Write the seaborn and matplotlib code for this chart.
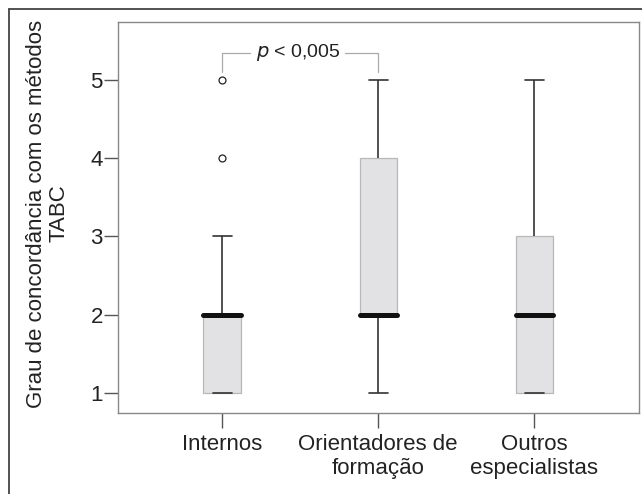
import numpy as np
import pandas as pd
import seaborn as sns
import matplotlib.pyplot as plt
from matplotlib.lines import Line2D

# Agreement scores (1-5) and number of respondents giving each score
scores = [1, 2, 3, 4, 5]
internos_counts = [10, 15, 3, 1, 1]
orientadores_counts = [3, 11, 3, 6, 3]
outros_counts = [7, 7, 5, 2, 2]

groups = ["Internos", "Orientadores de\nformação", "Outros\nespecialistas"]
y_ticks = [1, 2, 3, 4, 5]
p_label = r"$\it{p}$ < 0,005"

rows = []
for grp, counts in zip(groups, [internos_counts, orientadores_counts, outros_counts]):
    for s in np.repeat(scores, counts):
        rows.append((grp, s))
df = pd.DataFrame(rows, columns=["grupo", "grau"])

sns.set_style("white")
plt.rcParams["font.family"] = ["Liberation Sans", "DejaVu Sans"]

fig = plt.figure(figsize=(6.42, 4.94), dpi=100)
ax = fig.add_axes([0.184, 0.164, 0.811, 0.7915])

sns.boxplot(
    data=df, x="grupo", y="grau", order=groups, ax=ax,
    width=0.24, whis=1.5,
    boxprops=dict(facecolor="#e2e2e4", edgecolor="#b8b8b8", linewidth=0.9),
    whiskerprops=dict(color="#333333", linewidth=1.2),
    capprops=dict(color="#333333", linewidth=1.2),
    medianprops=dict(color="#111111", linewidth=3.6, solid_capstyle="round"),
    flierprops=dict(marker="o", markersize=5, markerfacecolor="white",
                    markeredgecolor="#222222", markeredgewidth=0.9),
)

ax.set_xlim(-0.667, 2.67)
ax.set_ylim(0.744, 5.74)
ax.set_yticks(y_ticks)
ax.set_yticklabels([str(v) for v in y_ticks], fontsize=16, color="#222222")
ax.set_xticks(range(len(groups)))
ax.set_xticklabels(groups, fontsize=16, color="#222222", linespacing=1.2)
ax.set_xlabel("")
ax.set_ylabel("Grau de concordância com os métodos\nTABC", fontsize=16,
              color="#222222", linespacing=1.1)
ax.yaxis.set_label_coords(-0.093, 0.51)

for sp in ax.spines.values():
    sp.set_visible(True)
    sp.set_color("#888888")
    sp.set_linewidth(1.0)
ax.tick_params(axis="y", direction="out", length=10, width=1.0, color="#555555",
               left=True, pad=1)
ax.tick_params(axis="x", direction="out", length=11, width=1.0, color="#555555",
               bottom=True, pad=4)

# Significance bracket between the first two groups
bc = "#aaaaaa"
ax.plot([0, 0], [5.1, 5.35], color=bc, lw=0.9)
ax.plot([0, 0.18], [5.35, 5.35], color=bc, lw=0.9)
ax.plot([0.79, 1.0], [5.35, 5.35], color=bc, lw=0.9)
ax.plot([1.0, 1.0], [5.35, 5.1], color=bc, lw=0.9)
ax.text(0.485, 5.35, p_label, ha="center", va="center", fontsize=14,
        color="#222222")

# Outer frame lines along the top and left of the figure
fig.add_artist(Line2D([9 / 642, 1.0], [1 - 9 / 494, 1 - 9 / 494],
                      transform=fig.transFigure, color="#444444", lw=1.3))
fig.add_artist(Line2D([9 / 642, 9 / 642], [0.0, 1 - 9 / 494],
                      transform=fig.transFigure, color="#444444", lw=1.3))

fig.savefig("out.png", dpi=100)
